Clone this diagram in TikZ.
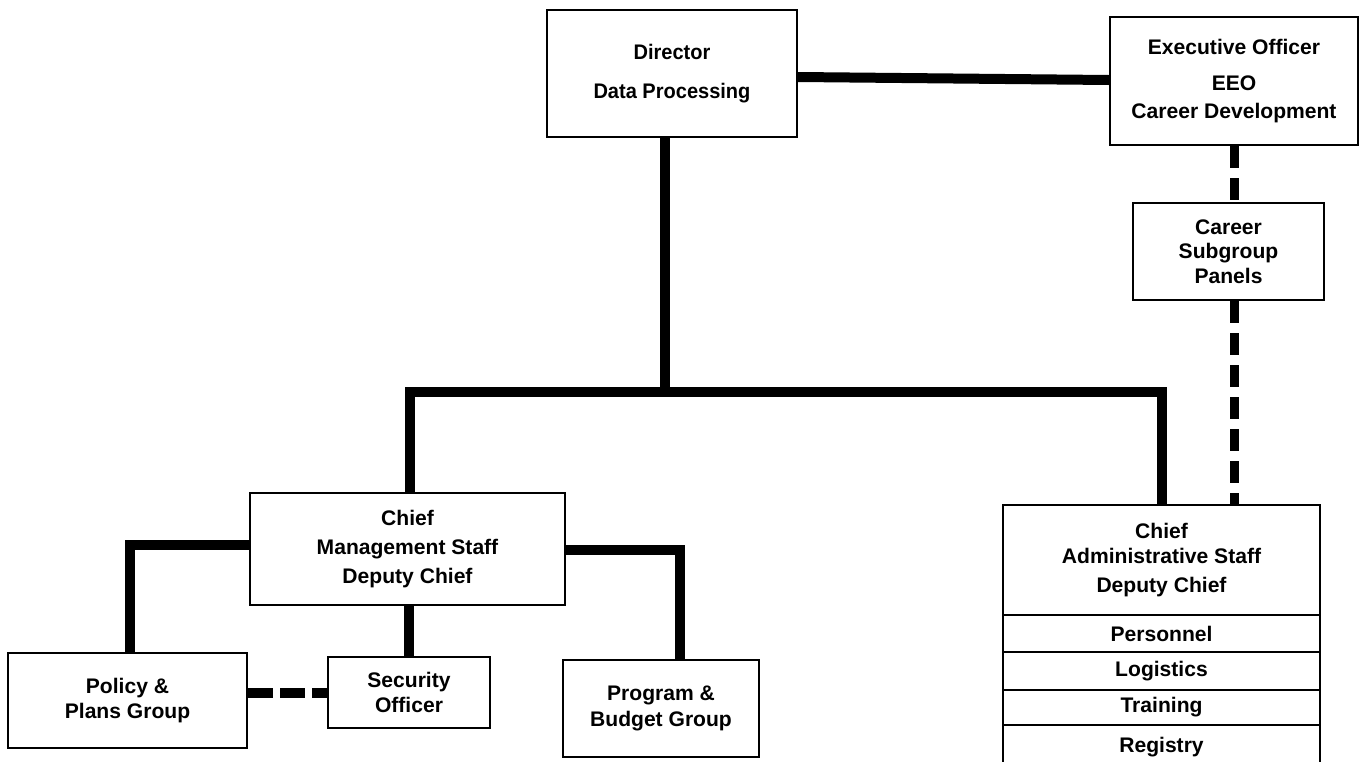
\documentclass[tikz,border=0pt]{standalone}
\usepackage{fontspec}
\setmainfont{Liberation Sans}
\newfontfamily\narrowfont[FakeStretch=0.95]{Liberation Sans}
\usetikzlibrary{positioning}

\tikzset{
    unit/.style={draw, line width=1.3pt, align=center, inner sep=0pt,
        font=\fontsize{12}{16.5}\selectfont\bfseries},
    section/.style={unit, outer sep=0pt, minimum width=6.34cm},
    link/.style={line width=0.2cm},
    dashlink/.style={line width=0.18cm, dash pattern=on 0.44cm off 0.2cm}
}

\begin{document}
\begin{tikzpicture}[x=0.02cm, y=-0.02cm]

    \useasboundingbox (0,0) rectangle (1362,761);

    % Director
    \node [unit,
        font=\fontsize{12}{16}\selectfont\narrowfont\bfseries,
        minimum width=5cm,
        minimum height=2.54cm
    ] (director) at (672,73.5) {Director\\[6pt]Data Processing};

    % Executive officer
    \node [unit,
        minimum width=4.96cm,
        minimum height=2.56cm
    ] (exec) at (1234,81) {Executive Officer\\[4pt]EEO\\[-1pt]Career Development};

    % Career panels
    \node [unit,
        font=\fontsize{12}{14}\selectfont\bfseries,
        minimum width=3.82cm,
        minimum height=1.94cm
    ] (career) at (1228.5,251.5) {Career\\Subgroup\\Panels};

    % Management staff
    \node [unit,
        minimum width=6.3cm,
        minimum height=2.24cm
    ] (mgmt) at (407.5,549) {Chief\\Management Staff\\Deputy Chief};

    % Policy
    \node [unit,
        font=\fontsize{12}{14}\selectfont\bfseries,
        minimum width=4.78cm,
        minimum height=1.9cm
    ] (policy) at (127.5,700.5) {Policy \&\\Plans Group};

    % Security
    \node [unit,
        font=\fontsize{12}{14}\selectfont\bfseries,
        minimum width=3.24cm,
        minimum height=1.42cm
    ] (security) at (409,692.5) {Security\\Officer};

    % Program
    \node [unit,
        font=\fontsize{12}{15}\selectfont\bfseries,
        minimum width=3.92cm,
        minimum height=1.94cm
    ] (program) at (661,708.5) {Program \&\\Budget Group};

    % Administrative staff
    \node [section,
        minimum height=2.2cm
    ] (admin) at (1161.5,560) {Chief\\[-2pt]Administrative Staff\\[0pt]Deputy Chief};
    \node [section, minimum height=0.74cm, below=0pt of admin] (personnel) {Personnel};
    \node [section, minimum height=0.76cm, below=0pt of personnel] (logistics) {Logistics};
    \node [section, minimum height=0.7cm, below=0pt of logistics] (training) {Training};
    \node [section, minimum height=0.9cm, below=0pt of training] (registry) {Registry};

    % Connectors
    \draw[link] ([yshift=-0.07cm]director.east) -- ([yshift=0.02cm]exec.west);

    \coordinate (fork) at (665,392);
    \draw[link] (director.south -| fork) -- (fork);
    \draw[link] ([xshift=0.05cm]mgmt.north) |- (fork) -| (admin.north);

    \draw[dashlink] (exec.south) -- (exec.south |- career.north);
    \draw[dashlink] (career.south -| exec) -- (admin.north -| exec);

    \draw[link] ([yshift=0.08cm]mgmt.west) -| ([xshift=0.05cm]policy.north);
    \draw[link] ([yshift=-0.02cm]mgmt.east) -| ([xshift=0.38cm]program.north);
    \draw[link] (mgmt.south -| security.north) -- (security.north);

    \draw[dashlink, line width=0.2cm, dash pattern=on 0.5cm off 0.14cm]
        (policy.east |- security) -- (security.west);

\end{tikzpicture}
\end{document}
